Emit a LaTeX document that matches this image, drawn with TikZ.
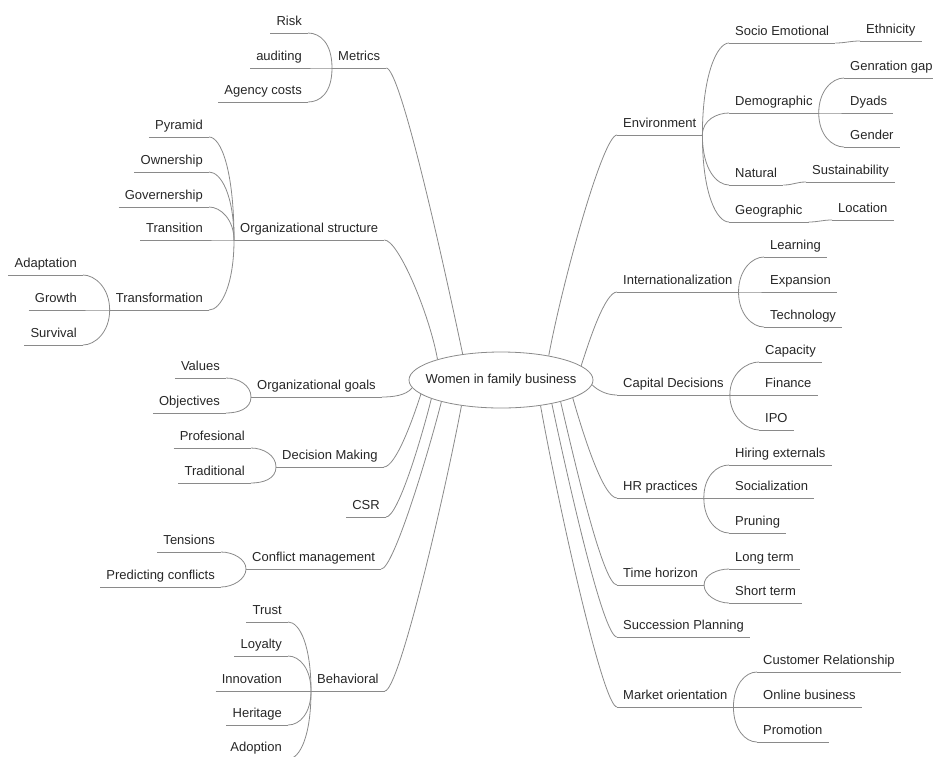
\documentclass[tikz,border=0pt]{standalone}
\usepackage{fontspec}
\setmainfont{Liberation Sans}
\usepackage{xcolor}
\usepackage{tikz}
\usetikzlibrary{shapes.geometric}
\definecolor{LineGry}{HTML}{8A8A8A}
\definecolor{InkGry} {HTML}{262626}

\begin{document}
\begin{tikzpicture}[
  x=1pt, y=-1pt,
  font=\fontsize{13}{15}\selectfont,
  hub/.style   = {ellipse, draw=LineGry, line width=0.8pt, fill=white, text=InkGry,
                  minimum width=184pt, minimum height=56pt, inner sep=0pt},
  topic/.style = {inner xsep=6pt, inner ysep=4pt, text height=10pt, text depth=3pt,
                  text=InkGry},
  hangL/.style = {topic, anchor=south east},
  hangR/.style = {topic, anchor=south west},
  link/.style  = {draw=LineGry, line width=0.8pt},
]
\useasboundingbox (0,0) rectangle (933,756);

\node[hub] (women) at (501,380) {\makebox[0pt]{Women in family business}};

\node[hangR] (metrics)     at (332, 68) {Metrics};
\node[hangL] (risk)        at (308, 33) {Risk};
\node[hangL] (auditing)    at (308, 68) {auditing};
\node[hangL] (agency)      at (308,102) {Agency costs};
\node[hangR] (orgstruct)   at (234,240) {Organizational structure};
\node[hangL] (pyramid)     at (209,137) {Pyramid};
\node[hangL] (ownership)   at (209,172) {Ownership};
\node[hangL] (governer)    at (209,207) {Governership};
\node[hangL] (transition)  at (209,240) {Transition};
\node[hangL] (transform)   at (209,310) {Transformation};
\node[hangL] (adaptation)  at ( 83,275) {Adaptation};
\node[hangL] (growth)      at ( 83,310) {Growth};
\node[hangL] (survival)    at ( 83,345) {Survival};
\node[hangR] (orggoals)    at (251,397) {Organizational goals};
\node[hangL] (values)      at (226,378) {Values};
\node[hangL] (objectives)  at (226,413) {Objectives};
\node[hangR] (decision)    at (276,467) {Decision Making};
\node[hangL] (profesional) at (251,448) {Profesional};
\node[hangL] (traditional) at (251,483) {Traditional};
\node[hangL] (csr)         at (386,517) {CSR};
\node[hangR] (conflict)    at (246,569) {Conflict management};
\node[hangL] (tensions)    at (221,552) {Tensions};
\node[hangL] (predicting)  at (221,587) {Predicting conflicts};
\node[hangR] (behavioral)  at (311,691) {Behavioral};
\node[hangL] (trust)       at (288,622) {Trust};
\node[hangL] (loyalty)     at (288,656) {Loyalty};
\node[hangL] (innovation)  at (288,691) {Innovation};
\node[hangL] (heritage)    at (288,725) {Heritage};
\node[hangL] (adoption)    at (288,759) {Adoption};

\node[hangR] (environment) at (617,135) {Environment};
\node[hangR] (socio)       at (729, 43) {Socio Emotional};
\node[hangR] (ethnicity)   at (860, 41) {Ethnicity};
\node[hangR] (demographic) at (729,113) {Demographic};
\node[hangR] (genration)   at (844, 78) {Genration gap};
\node[hangR] (dyads)       at (844,113) {Dyads};
\node[hangR] (gender)      at (844,147) {Gender};
\node[hangR] (natural)     at (729,185) {Natural};
\node[hangR] (sustain)     at (806,182) {Sustainability};
\node[hangR] (geographic)  at (729,222) {Geographic};
\node[hangR] (location)    at (832,220) {Location};
\node[hangR] (intl)        at (617,292) {Internationalization};
\node[hangR] (learning)    at (764,257) {Learning};
\node[hangR] (expansion)   at (764,292) {Expansion};
\node[hangR] (technology)  at (764,327) {Technology};
\node[hangR] (capital)     at (617,395) {Capital Decisions};
\node[hangR] (capacity)    at (759,362) {Capacity};
\node[hangR] (finance)     at (759,395) {Finance};
\node[hangR] (ipo)         at (759,430) {IPO};
\node[hangR] (hr)          at (617,498) {HR practices};
\node[hangR] (hiring)      at (729,465) {Hiring externals};
\node[hangR] (social)      at (729,498) {Socialization};
\node[hangR] (pruning)     at (729,533) {Pruning};
\node[hangR] (horizon)     at (617,585) {Time horizon};
\node[hangR] (longterm)    at (729,569) {Long term};
\node[hangR] (shortterm)   at (729,603) {Short term};
\node[hangR] (succession)  at (617,637) {Succession Planning};
\node[hangR] (market)      at (617,707) {Market orientation};
\node[hangR] (customer)    at (757,672) {Customer Relationship};
\node[hangR] (online)      at (757,707) {Online business};
\node[hangR] (promotion)   at (757,742) {Promotion};

\foreach \n in {metrics,risk,auditing,agency,orgstruct,pyramid,ownership,governer,
                transition,transform,adaptation,growth,survival,orggoals,values,objectives,
                decision,profesional,traditional,csr,conflict,tensions,predicting,
                behavioral,trust,loyalty,innovation,heritage,adoption}
  \draw[link] (\n.south west) -- (\n.south east);
\foreach \n in {environment,socio,ethnicity,demographic,genration,dyads,gender,natural,
                sustain,geographic,location,intl,learning,expansion,technology,capital,
                capacity,finance,ipo,hr,hiring,social,pruning,horizon,longterm,shortterm,
                succession,market,customer,online,promotion}
  \draw[link] (\n.south west) -- (\n.south east);

\draw[link] (women.146) .. controls +(-20,-95) and +(14,0) .. (metrics.south east);
\draw[link] (women.162) .. controls +(-8,-45)  and +(14,0) .. (orgstruct.south east);
\draw[link] (women.185) .. controls +(-6,8)    and +(10,0) .. (orggoals.south east);
\draw[link] (women.190) .. controls +(-8,25)   and +(12,0) .. (decision.south east);
\draw[link] (women.195) .. controls +(-10,40)  and +(12,0) .. (csr.south east);
\draw[link] (women.200) .. controls +(-14,55)  and +(12,0) .. (conflict.south east);
\draw[link] (women.213) .. controls +(-18,95)  and +(14,0) .. (behavioral.south east);

\draw[link] (women.27)  .. controls +(14,-75)  and +(-14,0) .. (environment.south west);
\draw[link] (women.10)  .. controls +(8,-25)   and +(-12,0) .. (intl.south west);
\draw[link] (women.-3)  .. controls +(6,6)     and +(-10,0) .. (capital.south west);
\draw[link] (women.-14) .. controls +(10,35)   and +(-14,0) .. (hr.south west);
\draw[link] (women.-20) .. controls +(14,60)   and +(-14,0) .. (horizon.south west);
\draw[link] (women.-25) .. controls +(16,75)   and +(-14,0) .. (succession.south west);
\draw[link] (women.-33) .. controls +(18,100)  and +(-14,0) .. (market.south west);

\foreach \kid/\v in {risk/-25, auditing/0, agency/25}
  \draw[link] (metrics.south west) .. controls +(0,\v) and +(12,0) .. (\kid.south east);
\foreach \kid/\v in {pyramid/-70, ownership/-45, governer/-20, transition/0, transform/45}
  \draw[link] (orgstruct.south west) .. controls +(0,\v) and +(12,0) .. (\kid.south east);
\foreach \kid/\v in {adaptation/-22, growth/0, survival/22}
  \draw[link] (transform.south west) .. controls +(0,\v) and +(12,0) .. (\kid.south east);
\foreach \kid/\v in {values/-12, objectives/12}
  \draw[link] (orggoals.south west) .. controls +(0,\v) and +(12,0) .. (\kid.south east);
\foreach \kid/\v in {profesional/-12, traditional/12}
  \draw[link] (decision.south west) .. controls +(0,\v) and +(12,0) .. (\kid.south east);
\foreach \kid/\v in {tensions/-10, predicting/10}
  \draw[link] (conflict.south west) .. controls +(0,\v) and +(12,0) .. (\kid.south east);
\foreach \kid/\v in {trust/-45, loyalty/-22, innovation/0, heritage/22, adoption/45}
  \draw[link] (behavioral.south west) .. controls +(0,\v) and +(12,0) .. (\kid.south east);

\foreach \kid/\v in {socio/-60, demographic/-15, natural/35, geographic/60}
  \draw[link] (environment.south east) .. controls +(0,\v) and +(-12,0) .. (\kid.south west);
\foreach \kid/\v in {genration/-22, dyads/0, gender/22}
  \draw[link] (demographic.south east) .. controls +(0,\v) and +(-12,0) .. (\kid.south west);
\foreach \kid/\v in {learning/-22, expansion/0, technology/22}
  \draw[link] (intl.south east) .. controls +(0,\v) and +(-12,0) .. (\kid.south west);
\foreach \kid/\v in {capacity/-22, finance/0, ipo/22}
  \draw[link] (capital.south east) .. controls +(0,\v) and +(-12,0) .. (\kid.south west);
\foreach \kid/\v in {hiring/-22, social/0, pruning/22}
  \draw[link] (hr.south east) .. controls +(0,\v) and +(-12,0) .. (\kid.south west);
\foreach \kid/\v in {longterm/-10, shortterm/10}
  \draw[link] (horizon.south east) .. controls +(0,\v) and +(-12,0) .. (\kid.south west);
\foreach \kid/\v in {customer/-22, online/0, promotion/22}
  \draw[link] (market.south east) .. controls +(0,\v) and +(-12,0) .. (\kid.south west);
\foreach \up/\kid in {socio/ethnicity, natural/sustain, geographic/location}
  \draw[link] (\up.south east) .. controls +(10,0) and +(-10,0) .. (\kid.south west);
\end{tikzpicture}
\end{document}
